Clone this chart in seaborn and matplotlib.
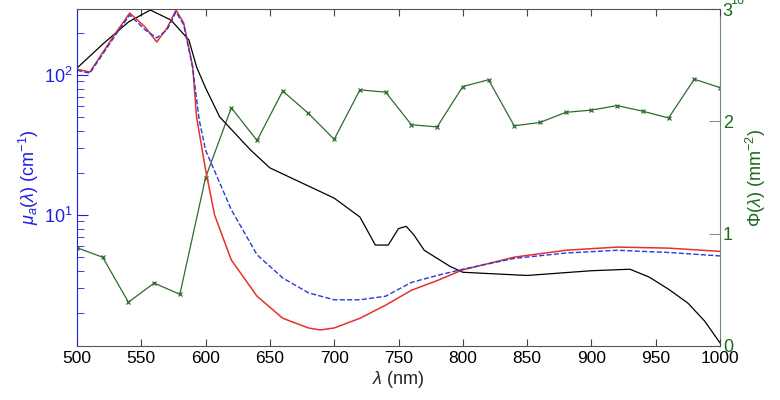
import numpy as np
import pandas as pd
import seaborn as sns
import matplotlib.pyplot as plt

# Data #######################################################################

# black: mu_a reference curve (left axis, cm^-1)
wl_black = [500, 520, 540, 557, 573, 587, 593, 600, 611, 635, 650, 700, 720,
            732, 742, 750, 756, 762, 770, 790, 800, 850, 900, 930, 945, 960,
            975, 988, 1000]
mu_black = [112, 166, 239, 291, 247, 178, 114, 80.8, 50.1, 29.1, 21.7, 13.2, 9.67,
            6.1, 6.1, 8.0, 8.3, 7.2, 5.6, 4.3, 3.9, 3.7, 4.0, 4.1, 3.6, 2.95,
            2.35, 1.75, 1.22]

# red solid: mu_a (left axis)
wl_red = [500, 510, 530, 541, 553, 562, 570, 577, 583, 590, 593, 600, 607, 620,
          640, 660, 680, 689, 700, 720, 740, 760, 780, 800, 840, 880, 920, 960, 1000]
mu_red = [110, 105, 199, 277, 220, 172, 216, 291, 235, 114, 50, 21, 10, 4.77,
          2.63, 1.83, 1.56, 1.51, 1.56, 1.83, 2.27, 2.9, 3.4, 4.06, 5.0, 5.6, 5.9, 5.8, 5.5]

# blue dashed: mu_a estimate (left axis)
wl_blue = [500, 510, 530, 541, 553, 562, 570, 577, 583, 590, 595, 600, 610, 620,
           640, 660, 680, 700, 720, 740, 760, 780, 800, 840, 880, 920, 960, 1000]
mu_blue = [108, 103, 193, 268, 210, 184, 210, 282, 228, 112, 48, 29, 17.8, 10.9,
           5.2, 3.55, 2.78, 2.48, 2.48, 2.63, 3.3, 3.7, 4.1, 4.9, 5.35, 5.6, 5.4, 5.1]

# green markers: Phi (right axis, mm^-2, x1e16)
wl_phi = list(range(500, 1001, 20))
phi = [0.875, 0.79, 0.39, 0.56, 0.46, 1.5, 2.12, 1.83, 2.27, 2.07, 1.84, 2.28, 2.26,
       1.97, 1.95, 2.31, 2.37, 1.96, 1.99, 2.08, 2.10, 2.14, 2.09, 2.03, 2.375, 2.30]

blue = "#1f1fe0"
green = "#2e6b2e"
dgreen = "#1c6a1c"

# Plot ########################################################################

sns.set_style("ticks")
plt.rcParams["font.family"] = ["Liberation Sans", "DejaVu Sans"]
plt.rcParams["mathtext.fontset"] = "custom"
plt.rcParams["mathtext.rm"] = "Liberation Sans"
plt.rcParams["mathtext.it"] = "Liberation Sans:italic"

fig = plt.figure(figsize=(7.8, 4), dpi=100)
ax = fig.add_axes([0.0987, 0.135, 0.8244, 0.8425])

sns.lineplot(x=wl_black, y=mu_black, ax=ax, color="black", lw=0.9)
sns.lineplot(x=wl_red, y=mu_red, ax=ax, color="#e8302a", lw=1.1)
sns.lineplot(x=wl_blue, y=mu_blue, ax=ax, color="#2a3ad8", lw=1.0, linestyle="--")

ax.set_yscale("log")
ax.set_xlim(500, 1000)
ax.set_ylim(1.16, 296)
ax.set_xticks(range(500, 1001, 50))
ax.tick_params(axis="x", which="both", direction="in", top=True, labelsize=12.5,
               colors="#444444", labelcolor="black", length=5)
ax.tick_params(axis="y", which="both", direction="in", right=True, colors=blue,
               labelsize=13)
ax.tick_params(axis="y", which="major", length=8)
ax.tick_params(axis="y", which="minor", length=5)
ax.set_xlabel(r"$\lambda$ (nm)", fontsize=13, labelpad=2)
ax.set_ylabel(r"$\mu_a(\lambda)$ (cm$^{-1}$)", fontsize=13, color=blue, labelpad=2)
ax.spines["left"].set_color(blue)
ax.spines["top"].set_color("#555555")
ax.spines["bottom"].set_color("#555555")
ax.spines["right"].set_visible(False)

ax2 = ax.twinx()
sns.lineplot(x=wl_phi, y=phi, ax=ax2, color=green, lw=0.9, marker="x",
             markersize=3.5, markeredgewidth=0.9, markeredgecolor=green)
ax2.set_ylim(0, 3)
ax2.set_yticks([0, 1, 2, 3])
ax2.tick_params(axis="y", direction="in", colors="#7a9a7a", labelcolor=dgreen,
                labelsize=13, length=8, pad=2)
ax2.set_ylabel(r"$\Phi(\lambda)$ (mm$^{-2}$)", fontsize=13, color=dgreen,
               rotation=90, labelpad=8)
for s in ["left", "top", "bottom"]:
    ax2.spines[s].set_visible(False)
ax2.spines["right"].set_color("#6f8f6f")
ax2.set_zorder(ax.get_zorder() - 1)
ax.patch.set_visible(False)

fig.text(0.936, 1.012, "16", fontsize=9, color=dgreen, va="top", ha="left")

fig.savefig("out.png", dpi=100)
